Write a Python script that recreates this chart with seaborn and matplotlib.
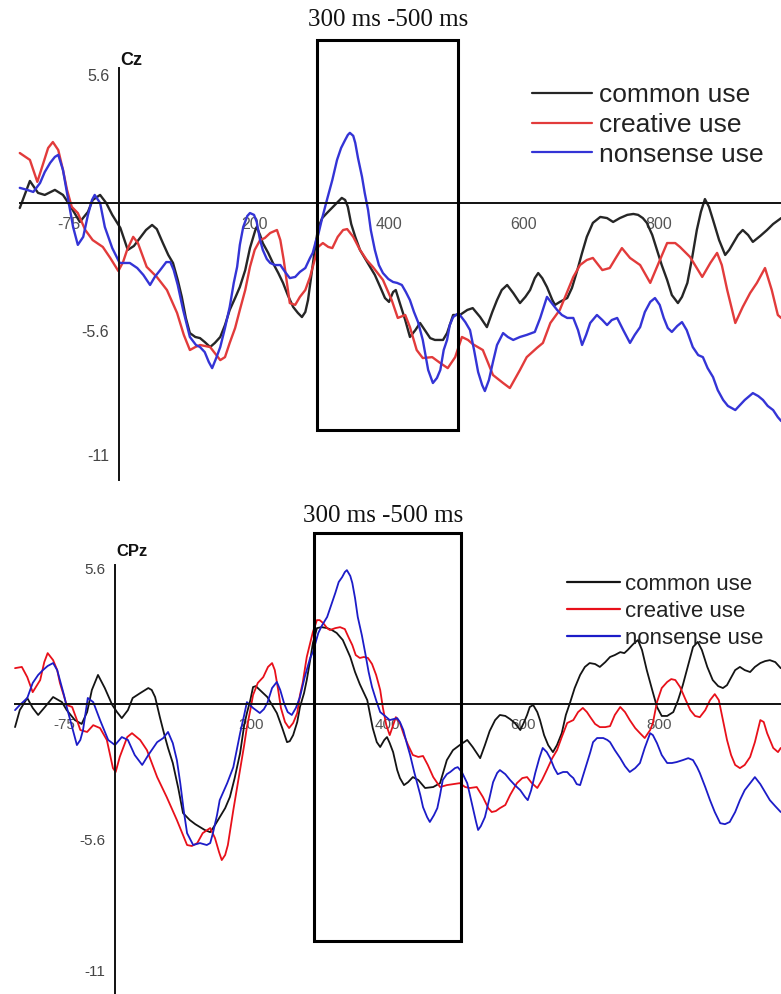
import matplotlib
matplotlib.use("Agg")
import matplotlib.pyplot as plt
from matplotlib.patches import Rectangle
import pandas as pd
import seaborn as sns

# ---------------- ERP waveforms, Cz electrode (time in ms, amplitude in µV) ----------------
cz_common_t = [-147,-132,-120,-110,-95,-83,-73,-58,-46,-39,-28,-19,-10,2,13,22,31,40,49,56,
               65,73,80,87,93,99,105,113,120,127,135,142,150,157,164,172,179,187,194,202,
               204,209,213,221,228,236,243,250,258,265,271,276,280,284,290,295,301,308,317,324,
               330,335,339,344,350,357,364,372,379,387,394,400,406,410,416,424,431,439,446,453,
               461,468,480,486,495,505,516,524,535,545,553,560,567,575,584,594,602,609,616,621,
               627,634,642,646,653,664,671,679,686,693,702,713,723,732,742,753,762,769,776,782,
               790,797,804,812,819,828,834,842,849,856,862,868,874,880,889,898,904,910,917,924,
               932,939,950,960,969,981]
cz_common_v = [-0.22,0.96,0.44,0.35,0.57,0.35,-0.09,-0.83,-0.39,0.13,0.35,0.00,-0.52,-1.09,-2.05,-1.88,-1.53,-1.18,-0.96,-1.14,
               -1.75,-2.27,-2.62,-3.36,-4.10,-5.02,-5.68,-5.85,-5.90,-6.07,-6.29,-6.11,-5.85,-5.33,-4.67,-4.15,-3.67,-2.93,-1.97,-1.18,
               -1.05,-1.40,-1.75,-2.18,-2.62,-3.06,-3.49,-4.02,-4.54,-4.80,-4.98,-4.76,-4.24,-3.36,-2.05,-1.09,-0.66,-0.44,-0.17,0.04,
               0.22,0.13,-0.17,-0.92,-1.48,-2.05,-2.40,-2.79,-3.14,-3.67,-4.15,-4.32,-3.89,-3.80,-4.37,-5.11,-5.85,-5.55,-5.24,-5.55,
               -5.90,-5.98,-5.98,-5.68,-4.89,-4.89,-4.67,-4.59,-4.98,-5.42,-4.76,-4.24,-3.80,-3.58,-3.93,-4.37,-4.10,-3.80,-3.28,-3.06,
               -3.28,-3.67,-4.24,-4.45,-4.32,-4.15,-3.71,-2.93,-2.18,-1.48,-0.87,-0.61,-0.66,-0.83,-0.66,-0.52,-0.48,-0.52,-0.66,-0.87,
               -1.40,-2.05,-2.71,-3.36,-4.02,-4.37,-4.10,-3.49,-2.40,-1.18,-0.39,0.17,-0.17,-0.74,-1.62,-2.27,-2.05,-1.75,-1.40,-1.18,
               -1.40,-1.70,-1.44,-1.18,-0.92,-0.66]

cz_creative_t = [-147,-132,-121,-112,-105,-98,-90,-83,-77,-70,-61,-50,-39,-24,-13,-1,6,12,21,28,
                 41,56,71,86,96,105,113,120,135,150,157,164,172,179,187,194,201,209,216,224,
                 234,239,244,253,261,268,276,283,289,295,302,310,316,324,332,338,347,357,367,376,
                 391,404,413,424,431,441,450,464,476,487,498,508,517,524,539,554,569,579,594,604,
                 619,628,639,653,673,683,693,702,716,727,736,745,757,772,787,797,812,824,831,846,
                 864,876,886,893,901,913,924,935,945,957,967,976,981]
cz_creative_v = [2.18,1.88,0.92,1.75,2.40,2.66,2.31,1.44,0.57,-0.17,-0.44,-1.18,-1.62,-1.92,-2.40,-2.97,-2.58,-2.05,-1.48,-1.75,
                 -2.79,-3.23,-3.80,-4.80,-5.76,-6.42,-6.29,-6.20,-6.29,-6.86,-6.73,-6.11,-5.46,-4.67,-3.80,-2.79,-2.05,-1.62,-1.53,-1.31,
                 -1.18,-1.62,-2.49,-4.37,-4.45,-4.10,-3.80,-3.23,-2.58,-1.92,-1.75,-1.92,-1.97,-1.48,-1.18,-1.14,-1.48,-2.05,-2.49,-2.79,
                 -3.36,-4.24,-5.02,-4.89,-5.42,-6.42,-6.77,-6.73,-6.99,-7.21,-6.73,-5.85,-5.98,-6.16,-6.42,-7.51,-7.86,-8.08,-7.29,-6.73,
                 -6.33,-6.11,-5.24,-4.67,-3.23,-2.71,-2.49,-2.40,-2.93,-2.84,-2.40,-1.97,-2.40,-2.71,-3.49,-2.79,-1.75,-1.75,-1.92,-2.36,
                 -3.23,-2.62,-2.18,-2.71,-3.80,-5.24,-4.54,-3.93,-3.49,-2.84,-3.80,-4.89,-5.02]

cz_nonsense_t = [-147,-136,-127,-117,-110,-102,-95,-90,-83,-76,-68,-61,-53,-46,-40,-36,-28,-21,-10,1,
                 16,27,36,46,53,61,70,76,81,87,95,105,114,120,127,133,138,144,150,157,
                 164,170,175,179,184,190,194,200,204,209,213,219,224,231,239,246,253,261,268,276,
                 283,287,292,295,301,308,316,323,329,335,339,342,347,350,354,360,364,369,373,379,
                 385,391,399,406,412,419,425,431,437,443,450,458,465,471,476,481,486,490,495,501,
                 505,513,520,526,532,538,542,548,554,560,569,576,584,594,604,616,624,634,641,649,
                 656,664,673,680,686,692,698,708,716,723,730,738,747,757,764,772,779,787,794,801,
                 807,813,819,827,834,841,850,858,865,872,880,887,895,902,913,920,927,939,947,954,
                 961,969,976,981]
cz_nonsense_v = [0.66,0.57,0.48,0.87,1.35,1.75,2.01,2.10,1.44,0.26,-1.05,-1.83,-1.48,-0.52,0.13,0.35,0.00,-1.05,-1.97,-2.62,
                 -2.62,-2.84,-3.14,-3.58,-3.23,-2.93,-2.58,-2.58,-2.93,-3.58,-4.67,-5.85,-6.20,-6.29,-6.51,-6.94,-7.21,-6.77,-6.29,-5.46,
                 -4.54,-3.49,-2.79,-1.83,-1.05,-0.57,-0.44,-0.52,-0.83,-1.62,-2.05,-2.45,-2.62,-2.71,-2.71,-3.01,-3.28,-3.23,-3.01,-2.84,
                 -2.40,-2.18,-1.62,-1.40,-0.66,0.13,1.00,1.88,2.40,2.75,2.97,3.06,2.93,2.62,1.97,1.14,0.44,-0.31,-1.18,-2.05,
                 -2.71,-3.06,-3.32,-3.45,-3.49,-3.58,-3.89,-4.24,-4.76,-5.20,-5.98,-7.29,-7.86,-7.64,-7.29,-6.42,-5.98,-5.33,-4.98,-4.85,
                 -4.89,-5.20,-5.55,-6.42,-7.38,-7.95,-8.21,-7.73,-6.94,-6.20,-5.68,-5.85,-5.98,-5.85,-5.76,-5.63,-5.02,-4.10,-4.37,-4.67,
                 -4.89,-5.02,-5.02,-5.55,-6.20,-5.76,-5.24,-4.89,-5.11,-5.33,-5.11,-5.02,-5.55,-6.11,-5.76,-5.42,-4.76,-4.32,-4.15,-4.45,
                 -5.02,-5.46,-5.63,-5.37,-5.20,-5.55,-6.29,-6.64,-6.73,-7.21,-7.60,-8.17,-8.60,-8.86,-9.04,-8.82,-8.60,-8.30,-8.43,-8.60,
                 -8.86,-9.04,-9.35,-9.52]

# ---------------- ERP waveforms, CPz electrode ----------------
cpz_common_t = [-147,-140,-129,-121,-113,-103,-91,-78,-71,-59,-49,-41,-34,-25,-15,-4,3,10,19,26,
                37,49,54,59,66,72,78,85,93,100,110,118,125,132,140,147,154,162,169,176,
                184,190,194,199,203,207,213,224,231,238,246,253,257,262,268,272,278,282,287,291,
                297,304,312,319,326,335,346,353,360,371,379,385,390,396,400,404,409,415,419,425,
                431,438,446,456,468,478,488,497,507,518,526,537,544,551,559,566,574,581,588,596,
                601,606,610,615,621,625,631,637,644,650,657,663,669,676,684,691,698,706,713,721,
                728,735,743,749,754,762,769,775,782,790,797,804,812,821,828,835,843,850,857,863,
                871,879,887,894,900,904,912,919,926,934,941,949,956,963,971,979]
cpz_common_v = [-0.95,-0.25,0.25,-0.16,-0.45,-0.12,0.29,0.08,-0.25,-0.66,-0.82,-0.33,0.58,1.20,0.66,-0.04,-0.33,-0.58,-0.25,0.25,
                0.45,0.66,0.58,0.29,-0.54,-1.20,-1.81,-2.43,-3.46,-4.49,-4.78,-4.95,-5.07,-5.19,-5.28,-4.99,-4.66,-4.29,-3.83,-3.05,
                -2.02,-0.87,-0.37,0.16,0.70,0.74,0.58,0.29,-0.04,-0.37,-0.99,-1.57,-1.53,-1.28,-0.74,-0.12,0.45,0.99,1.81,2.51,
                3.13,3.17,3.13,3.05,2.93,2.64,1.94,1.32,0.82,0.16,-0.99,-1.57,-1.77,-1.48,-1.36,-1.61,-1.98,-2.72,-3.05,-3.34,
                -3.22,-3.01,-3.13,-3.46,-3.42,-3.26,-2.31,-1.90,-1.69,-1.48,-1.77,-2.23,-1.69,-1.11,-0.66,-0.45,-0.49,-0.62,-0.78,-1.07,
                -0.78,-0.45,-0.12,-0.04,-0.33,-0.66,-1.28,-1.69,-1.98,-1.69,-1.20,-0.45,0.04,0.66,1.20,1.53,1.69,1.65,1.53,1.73,
                1.94,2.02,2.14,2.10,2.23,2.47,2.64,2.23,1.40,0.58,-0.12,-0.49,-0.49,-0.33,0.16,0.78,1.61,2.35,2.56,2.23,
                1.53,0.99,0.74,0.66,0.78,0.99,1.40,1.53,1.40,1.32,1.53,1.69,1.77,1.81,1.73,1.48]

cpz_creative_t = [-147,-137,-129,-121,-110,-104,-99,-91,-85,-81,-71,-63,-56,-51,-41,-32,-22,-12,-3,1,
                  7,18,25,37,47,62,76,91,106,113,121,129,140,147,153,157,162,166,174,179,
                  184,190,194,199,203,210,218,225,231,235,240,244,250,256,262,268,272,276,282,287,
                  291,297,301,306,312,316,324,331,338,344,349,354,360,366,372,378,384,390,394,399,
                  404,409,413,419,425,431,438,446,453,460,468,478,488,497,507,515,522,532,541,549,
                  554,560,566,574,581,591,599,606,613,621,628,635,643,650,657,665,674,681,688,694,
                  699,706,713,721,728,735,743,750,757,765,772,779,787,791,797,804,812,818,824,831,
                  838,846,853,860,868,875,882,888,894,900,906,912,919,926,934,941,949,954,959,968,
                  975,979]
cpz_creative_v = [1.48,1.53,1.11,0.49,0.99,1.73,2.10,1.81,1.40,0.87,-0.04,-0.12,-0.66,-1.07,-1.15,-0.87,-0.99,-1.48,-2.64,-2.80,
                  -2.18,-1.36,-1.20,-1.48,-1.90,-3.01,-3.83,-4.78,-5.81,-5.85,-5.73,-5.32,-5.11,-5.52,-6.10,-6.43,-6.22,-5.81,-4.37,-3.54,
                  -2.72,-1.69,-0.95,-0.25,0.37,0.87,1.11,1.53,1.69,1.40,0.58,-0.16,-0.74,-0.99,-0.78,-0.37,0.37,0.87,1.94,2.51,
                  2.97,3.46,3.46,3.34,3.13,3.05,3.13,3.17,3.09,2.72,2.43,2.02,1.90,1.94,1.90,1.65,1.20,0.58,-0.16,-0.87,
                  -1.28,-0.87,-0.54,-0.78,-1.28,-1.69,-2.10,-2.18,-2.14,-2.51,-3.01,-3.42,-3.34,-3.30,-3.26,-3.42,-3.46,-3.42,-3.83,-4.29,
                  -4.45,-4.41,-4.29,-4.16,-3.75,-3.26,-3.05,-3.01,-3.26,-3.46,-3.13,-2.72,-2.23,-1.90,-1.36,-0.78,-0.66,-0.33,-0.16,-0.33,
                  -0.54,-0.82,-0.95,-0.95,-0.91,-0.45,-0.12,-0.33,-0.66,-0.99,-1.20,-1.40,-1.07,-0.78,0.08,0.66,0.91,1.03,0.99,0.70,
                  0.25,-0.25,-0.49,-0.54,-0.25,0.16,0.41,0.16,-0.66,-1.48,-2.10,-2.51,-2.64,-2.51,-2.18,-1.57,-0.66,-0.74,-1.20,-1.81,
                  -1.98,-1.81]

cpz_nonsense_t = [-147,-140,-129,-121,-113,-106,-99,-91,-85,-81,-75,-71,-63,-56,-51,-47,-40,-32,-22,-10,
                  0,10,19,29,40,49,62,71,78,85,91,96,101,106,115,125,135,140,144,150,
                  154,165,174,179,184,190,194,203,213,219,224,231,238,243,249,254,260,266,272,279,
                  287,291,299,304,312,318,324,329,334,338,341,346,349,353,357,363,368,373,378,384,
                  390,397,404,415,419,424,429,434,440,444,449,453,459,463,469,474,478,482,488,493,
                  500,504,510,518,522,526,531,534,538,544,550,556,562,566,574,581,588,596,603,607,
                  612,618,624,629,635,640,646,651,659,665,669,674,679,684,690,694,699,703,709,718,
                  724,728,735,743,750,757,765,772,779,787,791,797,804,812,819,826,835,843,850,856,
                  860,868,875,882,890,897,904,912,919,926,934,941,949,956,963,971,979]
cpz_nonsense_v = [-0.25,-0.04,0.25,0.87,1.20,1.40,1.57,1.69,1.40,0.99,0.37,-0.12,-0.95,-1.69,-1.48,-1.07,0.25,0.08,-0.66,-1.48,
                  -1.69,-1.36,-1.48,-2.10,-2.51,-2.10,-1.57,-1.40,-1.15,-1.61,-2.31,-3.26,-4.37,-5.32,-5.81,-5.73,-5.81,-5.73,-5.32,-4.58,
                  -3.96,-3.26,-2.60,-1.90,-1.20,-0.45,0.08,-0.16,-0.37,-0.21,0.04,0.66,0.91,0.58,0.00,-0.33,-0.45,-0.16,0.29,1.11,
                  1.90,2.14,2.93,3.22,3.59,4.08,4.58,5.03,5.23,5.44,5.52,5.28,4.99,4.37,3.59,2.84,2.10,1.32,0.70,0.16,
                  -0.33,-0.49,-0.66,-0.58,-0.74,-1.07,-1.61,-2.10,-2.80,-3.22,-3.75,-4.25,-4.66,-4.86,-4.58,-4.29,-3.75,-3.13,-2.89,-2.80,
                  -2.64,-2.60,-2.80,-3.26,-3.75,-4.25,-4.86,-5.19,-5.03,-4.66,-3.96,-3.22,-2.84,-2.72,-2.89,-3.13,-3.34,-3.55,-3.83,-3.96,
                  -3.55,-2.84,-2.23,-1.81,-1.98,-2.23,-2.64,-2.89,-2.80,-2.80,-2.93,-3.05,-3.30,-3.34,-2.80,-2.43,-1.98,-1.57,-1.40,-1.40,
                  -1.48,-1.57,-1.90,-2.23,-2.56,-2.80,-2.64,-2.43,-1.81,-1.20,-1.28,-1.61,-2.10,-2.43,-2.43,-2.39,-2.31,-2.23,-2.31,-2.60,
                  -2.84,-3.42,-3.96,-4.45,-4.91,-4.95,-4.86,-4.45,-3.96,-3.55,-3.26,-3.01,-3.30,-3.63,-3.96,-4.21,-4.45]

conditions = ["common use", "creative use", "nonsense use"]
x_ticks = [-75, 200, 400, 600, 800]
x_tick_labels = ["-75", "200", "400", "600", "800"]
y_ticks = [5.6, -5.6, -11]
y_tick_labels = ["5.6", "-5.6", "-11"]
window_label = "300 ms -500 ms"

sns.set_style("white")
plt.rcParams["font.family"] = ["Liberation Sans", "DejaVu Sans"]
plt.rcParams["lines.solid_joinstyle"] = "round"
plt.rcParams["lines.solid_capstyle"] = "round"

W, H = 781, 994
fig = plt.figure(figsize=(W / 100, H / 100), dpi=100)


def panel(ax, series, colors, lw, electrode, xlim, ylim, spine_y, win, legend_cfg, tick_fs):
    for (t, v), name, col in zip(series, conditions, colors):
        df = pd.DataFrame({"time": t, "amplitude": v})
        sns.lineplot(data=df, x="time", y="amplitude", ax=ax, color=col, lw=lw,
                     label=name, estimator=None, sort=False)
    ax.set_xlim(*xlim)
    ax.set_ylim(*ylim)
    ax.set_xlabel("")
    ax.set_ylabel("")
    for s in ("top", "right"):
        ax.spines[s].set_visible(False)
    ax.spines["left"].set_position(("data", 0))
    ax.spines["bottom"].set_position(("data", 0))
    ax.spines["left"].set_bounds(*spine_y)
    ax.spines["bottom"].set_bounds(-147, 990)
    for s in ("left", "bottom"):
        ax.spines[s].set_linewidth(1.4)
        ax.spines[s].set_color("#111111")
    ax.set_xticks(x_ticks)
    ax.set_xticklabels(x_tick_labels)
    ax.set_yticks(y_ticks)
    ax.set_yticklabels(y_tick_labels)
    ax.tick_params(axis="x", direction="out", length=7, width=1.2, color="#333333",
                   labelsize=tick_fs, labelcolor="#555555", pad=3)
    ax.tick_params(axis="y", direction="out", length=5, width=1.2, color="#333333",
                   labelsize=tick_fs, labelcolor="#444444", pad=2)
    ax.patch.set_alpha(0)
    # analysis window
    x0, x1, y0, y1 = win
    ax.add_patch(Rectangle((x0, y0), x1 - x0, y1 - y0, fill=False, lw=2.2,
                           ec="black", clip_on=False, zorder=5))
    ax.text(electrode[1], electrode[2], electrode[0], fontsize=electrode[3],
            fontweight="bold", ha="left", va="center", color="#111111")
    fs, anchor, hl, htp, ls = legend_cfg
    leg = ax.legend(loc="upper left", bbox_to_anchor=anchor, bbox_transform=fig.transFigure,
                    frameon=False, fontsize=fs, handlelength=hl, handletextpad=htp,
                    labelspacing=ls, borderpad=0, borderaxespad=0)
    for txt in leg.get_texts():
        txt.set_color("#222222")
    for h in leg.legend_handles:
        h.set_linewidth(1.6)


ax1 = fig.add_axes([0, 1 - 490 / H, 1, 460 / H])
panel(ax1,
      [(cz_common_t, cz_common_v), (cz_creative_t, cz_creative_v), (cz_nonsense_t, cz_nonsense_v)],
      ["#262626", "#e23b3b", "#3434d6"], 1.7,
      ("Cz", 2, 6.2, 13),
      (-176.3, 980.7), (-12.53, 7.55), (-12.1, 5.9),
      (293, 502.7, -9.91, 7.12),
      (19, (532 / W, 1 - 83 / H), 2.27, 0.28, 0.22),
      11.5)

ax2 = fig.add_axes([0, 0, 1, 469 / H])
panel(ax2,
      [(cpz_common_t, cpz_common_v), (cpz_creative_t, cpz_creative_v), (cpz_nonsense_t, cpz_nonsense_v)],
      ["#141414", "#e8101a", "#1c1cc8"], 1.3,
      ("CPz", 1.5, 6.3, 12),
      (-169.1, 979.4), (-11.95, 7.38), (-12.0, 5.75),
      (292.6, 508.8, -9.77, 7.06),
      (16, (567 / W, 1 - 574 / H), 2.4, 0.22, 0.26),
      11)

fig.text(388 / W, 1 - 20 / H, window_label, family=["Liberation Serif", "DejaVu Serif"],
         fontsize=18, ha="center", va="center", color="#111111")
fig.text(383 / W, 1 - 516 / H, window_label, family=["Liberation Serif", "DejaVu Serif"],
         fontsize=18, ha="center", va="center", color="#111111")

fig.savefig("out.png", dpi=100, facecolor="white")
